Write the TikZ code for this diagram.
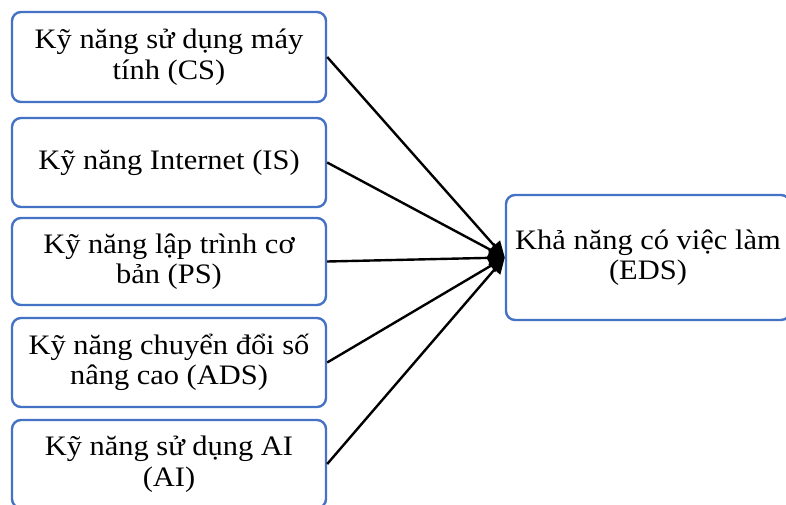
\documentclass[tikz,border=0pt]{standalone}
\usepackage{fontspec}
\setmainfont[FakeStretch=1.08]{Liberation Serif}
\usetikzlibrary{arrows.meta}
\definecolor{boxblue}{RGB}{68,114,196}
\begin{document}
\begin{tikzpicture}[x=1pt,y=-1pt,
  box/.style={draw=boxblue, line width=2.4pt, rounded corners=9pt, fill=white,
    align=center, inner sep=0pt, font=\fontsize{28.2}{30.5}\selectfont},
  link/.style={line width=2.4pt, -{Triangle[length=16pt,width=15pt]}}]
\useasboundingbox (0,0) rectangle (786,504);
\clip (0,0) rectangle (786,504);
\node[box, minimum width=314pt, minimum height=90pt] (cs) at (169,57) {Kỹ năng sử dụng máy\\tính (CS)};
\node[box, minimum width=314pt, minimum height=89pt] (is) at (169,162.5) {Kỹ năng Internet (IS)};
\node[box, minimum width=314pt, minimum height=87pt] (ps) at (169,261.5) {Kỹ năng lập trình cơ\\bản (PS)};
\node[box, minimum width=314pt, minimum height=89pt] (ads) at (169,362.5) {Kỹ năng chuyển đổi số\\nâng cao (ADS)};
\node[box, minimum width=314pt, minimum height=88pt] (ai) at (169,464) {Kỹ năng sử dụng AI\\(AI)};
\node[box, minimum width=284pt, minimum height=125pt] (eds) at (648,257.5) {Khả năng có việc làm\\(EDS)};
\foreach \s in {cs,is,ps,ads,ai}
  \draw[link] (\s.east) -- (eds.west);
\end{tikzpicture}
\end{document}
